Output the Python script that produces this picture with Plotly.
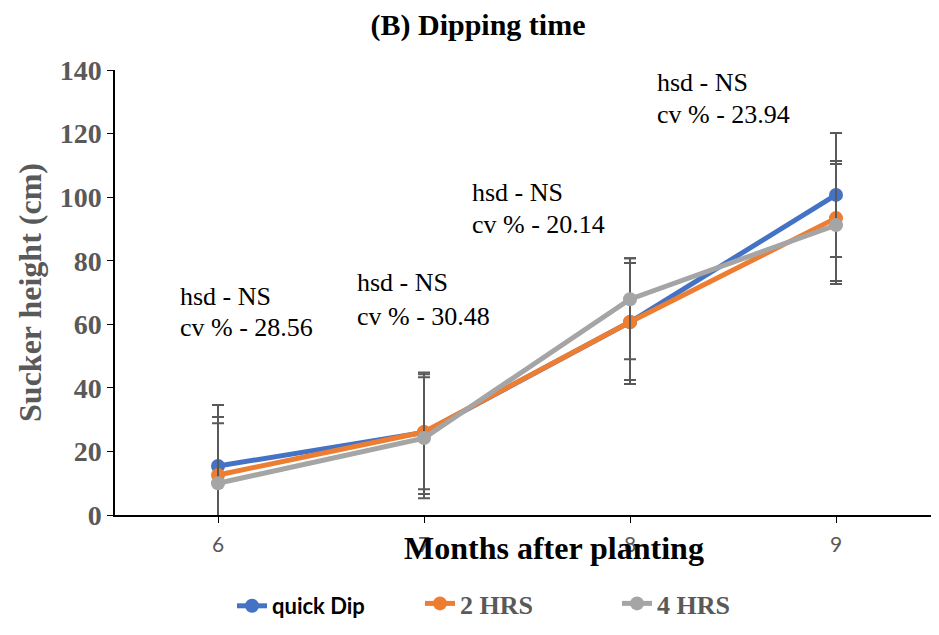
import plotly.graph_objects as go

# months after planting
months = [6, 7, 8, 9]

# sucker height (cm) per dipping time
quick_dip = [15.4, 26.0, 60.7, 100.7]
hrs_2 = [12.6, 26.1, 60.7, 93.4]
hrs_4 = [10.0, 24.2, 67.9, 91.2]

# error bars (plus / minus)
quick_dip_err_up = [19.2, 18.8, 20.1, 19.5]
quick_dip_err_dn = [19.2, 19.4, 19.5, 19.5]
hrs_2_err_up = [18.2, 18.2, 18.6, 18.0]
hrs_2_err_dn = [18.2, 18.0, 18.2, 19.8]
hrs_4_err_up = [18.9, 19.1, 12.9, 19.2]
hrs_4_err_dn = [18.9, 18.9, 18.9, 18.5]

# stats notes above each month
hsd_labels = ["hsd - NS", "hsd - NS", "hsd - NS", "hsd - NS"]
cv_labels = ["cv % - 28.56", "cv % - 30.48", "cv % - 20.14", "cv % - 23.94"]

serif = "Times New Roman, Liberation Serif, serif"
grey = "#595959"

# the page body has an 8px margin; keep the figure small enough to avoid scrollbars
OFF = 8
W, H = 939 - 2 * OFF, 635 - 2 * OFF
PLOT_L, PLOT_T, PLOT_B = 115, 70, 515  # reference pixels
MONTH_PX = 206  # reference pixels per month
plot_w = W - (PLOT_L - OFF)


def px_x(p):
    # reference pixel -> paper x
    return (p - PLOT_L) / plot_w


def px_y(p):
    # reference pixel -> paper y
    return (PLOT_B - p) / (PLOT_B - PLOT_T)


fig = go.Figure()

series = [
    ("quick Dip", quick_dip, quick_dip_err_up, quick_dip_err_dn, "#4472C4", "legend"),
    ("2 HRS", hrs_2, hrs_2_err_up, hrs_2_err_dn, "#ED7D31", "legend2"),
    ("4 HRS", hrs_4, hrs_4_err_up, hrs_4_err_dn, "#A5A5A5", "legend3"),
]
for name, vals, up, dn, col, leg in series:
    fig.add_trace(go.Scatter(
        x=months, y=vals, name=name, mode="lines+markers",
        line=dict(color=col, width=5),
        marker=dict(color=col, size=14),
        error_y=dict(type="data", array=up, arrayminus=dn, symmetric=False,
                     color=grey, thickness=2, width=6),
        legend=leg, showlegend=True,
    ))

# annotation spots (data coords)
note_x = [5.806, 6.665, 7.223, 8.121]
note_y_hsd = [68.6, 73.3, 101.6, 136.2]
note_y_cv = [59.1, 62.6, 91.5, 126.1]
for i in range(len(months)):
    for txt, yy in [(hsd_labels[i], note_y_hsd[i]), (cv_labels[i], note_y_cv[i])]:
        fig.add_annotation(x=note_x[i], y=yy, text=txt, showarrow=False,
                           xanchor="left", yanchor="middle",
                           font=dict(family=serif, size=26, color="black"))

# x axis title sits over the tick labels, like the original
fig.add_annotation(x=px_x(554), y=px_y(548), xref="paper", yref="paper",
                   text="<b>Months after planting</b>", showarrow=False,
                   xanchor="center", yanchor="middle",
                   font=dict(family=serif, size=32, color="black"))

# legends sit on the bottom edge of the figure
leg_y = px_y(635 - OFF)
fig.update_layout(
    width=W, height=H,
    margin=dict(l=PLOT_L - OFF, r=0, t=PLOT_T - OFF, b=H - (PLOT_B - OFF)),
    plot_bgcolor="white", paper_bgcolor="white",
    title=dict(text="<b>(B) Dipping time</b>", x=(478 - OFF) / W, xanchor="center",
               y=1 - (24 - OFF) / H, yanchor="middle",
               font=dict(family=serif, size=30, color="black")),
    xaxis=dict(range=[5.5, 5.5 + plot_w / MONTH_PX], tickvals=months,
               ticktext=[str(m) for m in months],
               showgrid=False, zeroline=False, showline=True, linecolor="black",
               linewidth=1.5, ticks="outside", ticklen=6, tickcolor="black",
               ticklabelstandoff=4, automargin=False,
               tickfont=dict(family="Lato", size=21, color=grey)),
    yaxis=dict(range=[0, 140], dtick=20, showgrid=False, zeroline=False,
               showline=True, linecolor="black", linewidth=1.5,
               ticks="outside", ticklen=6, tickcolor="black", automargin=False,
               tickfont=dict(family=serif, size=28, color=grey, weight="bold"),
               title=dict(text="<b>Sucker height (cm)</b>", standoff=8,
                          font=dict(family=serif, size=32, color=grey))),
    legend=dict(x=px_x(232), y=leg_y, xanchor="left", yanchor="bottom",
                font=dict(family="Lato", size=22, color="black", weight="bold"),
                bgcolor="rgba(0,0,0,0)"),
    legend2=dict(x=px_x(420), y=leg_y, xanchor="left", yanchor="bottom",
                 font=dict(family=serif, size=26, color=grey, weight="bold"),
                 bgcolor="rgba(0,0,0,0)"),
    legend3=dict(x=px_x(617), y=leg_y, xanchor="left", yanchor="bottom",
                 font=dict(family=serif, size=26, color=grey, weight="bold"),
                 bgcolor="rgba(0,0,0,0)"),
)

fig.write_html("out.html")
